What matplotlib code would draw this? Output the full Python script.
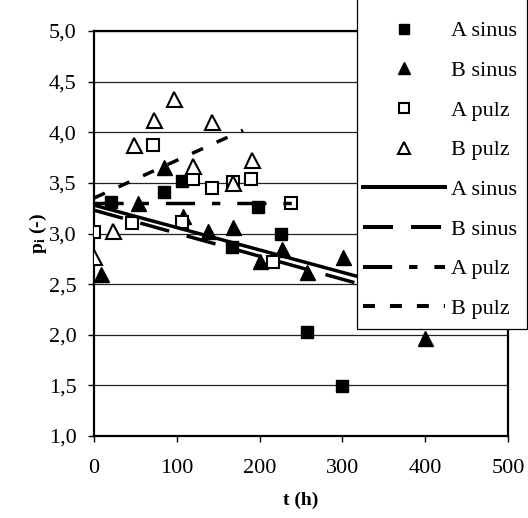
import matplotlib
matplotlib.use('Agg')
import matplotlib.pyplot as plt
from matplotlib.lines import Line2D
from matplotlib.patches import Rectangle
from matplotlib.ticker import MultipleLocator, FuncFormatter

plt.rcParams['font.family'] = ['Liberation Serif', 'DejaVu Serif']
plt.rcParams['lines.scale_dashes'] = False
plt.rcParams['mathtext.fontset'] = 'custom'
plt.rcParams['mathtext.rm'] = 'Liberation Serif:bold'
plt.rcParams['mathtext.it'] = 'Liberation Serif:bold'
plt.rcParams['mathtext.bf'] = 'Liberation Serif:bold'

# ---------------- data ----------------
A_sinus_t = [21, 84, 106, 167, 198, 226, 257, 300]
A_sinus_p = [3.31, 3.41, 3.52, 2.87, 3.26, 3.00, 2.03, 1.49]

B_sinus_t = [8, 53, 84, 107, 138, 168, 200, 227, 257, 301, 400]
B_sinus_p = [2.60, 3.30, 3.66, 3.17, 3.02, 3.06, 2.73, 2.85, 2.62, 2.77, 1.97]

A_pulz_t = [0, 46, 71, 106, 120, 142, 168, 190, 216, 238]
A_pulz_p = [3.01, 3.10, 3.87, 3.11, 3.54, 3.45, 3.51, 3.54, 2.72, 3.30]

B_pulz_t = [0, 23, 48, 72, 97, 120, 143, 168, 191]
B_pulz_p = [2.77, 3.02, 3.87, 4.12, 4.33, 3.67, 4.10, 3.50, 3.73]

# trend lines (end points)
trend_A_sinus_t = [0, 330]
trend_A_sinus_p = [3.28, 2.55]
trend_B_sinus_t = [0, 330]
trend_B_sinus_p = [3.23, 2.48]
trend_A_pulz_t = [0, 242]
trend_A_pulz_p = [3.30, 3.30]
trend_B_pulz_t = [0, 180]
trend_B_pulz_p = [3.35, 4.02]

labels = ['A sinus', 'B sinus', 'A pulz', 'B pulz',
          'A sinus', 'B sinus', 'A pulz', 'B pulz']

# ---------------- styles ----------------
W, H = 528, 518
fig = plt.figure(figsize=(W / 100, H / 100), dpi=100)
ax = fig.add_axes([94 / W, 1 - 436 / H, (508 - 94) / W, (436 - 31) / H])

sq_ms = 8.5
tri_ms = 10.8
lw_tr = 2.5
dash_B_sinus = (21.6, 13.0)
dash_A_pulz = (21.0, 12.2, 6.0, 12.2)
dash_B_pulz = (8.6, 10.8)

ax.plot(A_sinus_t, A_sinus_p, ls='none', marker='s', ms=sq_ms,
        mfc='black', mec='black', mew=1, zorder=3)
ax.plot(B_sinus_t, B_sinus_p, ls='none', marker='^', ms=tri_ms,
        mfc='black', mec='black', mew=1, zorder=3)
ax.plot(A_pulz_t, A_pulz_p, ls='none', marker='s', ms=sq_ms,
        mfc='white', mec='black', mew=1.5, zorder=3)
ax.plot(B_pulz_t, B_pulz_p, ls='none', marker='^', ms=tri_ms,
        mfc='white', mec='black', mew=1.5, zorder=3)

ax.plot(trend_A_sinus_t, trend_A_sinus_p, color='black', lw=lw_tr,
        ls='-', zorder=4)
ax.plot(trend_B_sinus_t, trend_B_sinus_p, color='black', lw=lw_tr,
        dashes=dash_B_sinus, zorder=4)
ax.plot(trend_A_pulz_t, trend_A_pulz_p, color='black', lw=lw_tr,
        dashes=dash_A_pulz, zorder=4)
ax.plot(trend_B_pulz_t, trend_B_pulz_p, color='black', lw=lw_tr,
        dashes=dash_B_pulz, zorder=4)

ax.set_xlim(0, 500)
ax.set_ylim(1.0, 5.0)
ax.xaxis.set_major_locator(MultipleLocator(100))
ax.yaxis.set_major_locator(MultipleLocator(0.5))
ax.yaxis.set_major_formatter(
    FuncFormatter(lambda v, _: f'{v:.1f}'.replace('.', ',')))
ax.xaxis.set_major_formatter(FuncFormatter(lambda v, _: f'{v:.0f}'))

ax.yaxis.grid(True, color='#222222', lw=0.9)
ax.set_axisbelow(True)
for s in ax.spines.values():
    s.set_linewidth(1.6)
ax.tick_params(direction='out', length=4.5, width=1, labelsize=16,
               top=False, right=False)
ax.tick_params(axis='y', pad=8)
ax.tick_params(axis='x', pad=12)

ax.set_xlabel('t (h)', fontsize=14, fontweight='bold')
ax.xaxis.set_label_coords(0.5, (436 - 500) / 405)
ax.xaxis.label.set_va('center')
ax.set_ylabel(r'p$_{\rm i}$ (-)', fontsize=14, fontweight='bold')
ax.yaxis.set_label_coords((38 - 94) / 414, 0.5)
ax.yaxis.label.set_va('center')

# legend box (extends above the figure top)
rect = Rectangle((357 / W, 1 - 329 / H), 170 / W, 0.8,
                 transform=fig.transFigure, facecolor='white',
                 edgecolor='black', lw=0.9, zorder=4)
fig.add_artist(rect)

handles = [
    Line2D([], [], ls='none', marker='s', ms=sq_ms, mfc='black', mec='black'),
    Line2D([], [], ls='none', marker='^', ms=tri_ms, mfc='black', mec='black'),
    Line2D([], [], ls='none', marker='s', ms=sq_ms, mfc='white', mec='black', mew=1.5),
    Line2D([], [], ls='none', marker='^', ms=tri_ms, mfc='white', mec='black', mew=1.5),
    Line2D([], [], color='black', lw=2.9, ls='-'),
    Line2D([], [], color='black', lw=2.9, dashes=dash_B_sinus),
    Line2D([], [], color='black', lw=2.9, dashes=dash_A_pulz),
    Line2D([], [], color='black', lw=2.9, dashes=dash_B_pulz),
]
leg = fig.legend(handles, labels, loc='center left',
                 bbox_to_anchor=(363 / W, 1 - 170 / H),
                 bbox_transform=fig.transFigure, frameon=False,
                 fontsize=16, handlelength=3.7, handletextpad=0.25,
                 labelspacing=0.86, borderpad=0, borderaxespad=0,
                 numpoints=1, markerscale=0.8)
leg.set_zorder(6)

fig.savefig('out.png', dpi=100)
